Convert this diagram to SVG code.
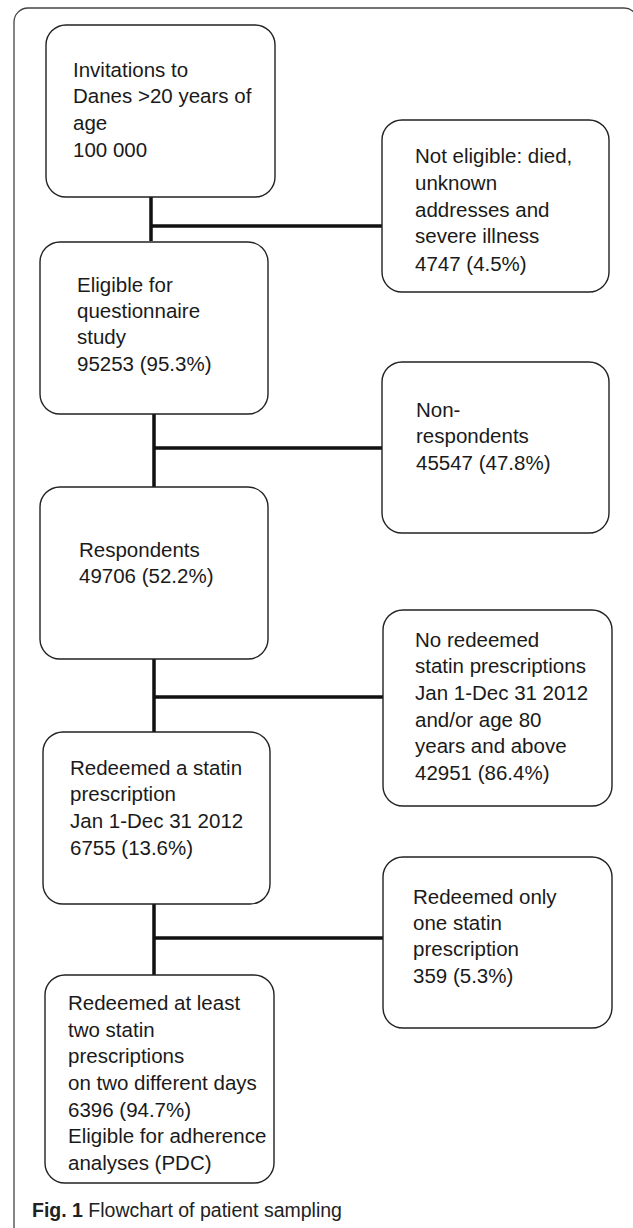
<svg xmlns="http://www.w3.org/2000/svg" width="633" height="1228" viewBox="0 0 633 1228">
  <style>
    .frame { fill: none; stroke: #444; stroke-width: 1.3; }
    .box { fill: #fff; stroke: #222; stroke-width: 1.4; }
    .lbl { font-family: "Liberation Sans", Arial, sans-serif; font-size: 20.5px; fill: #1a1a1a; }
    .conn { stroke: #111; stroke-width: 3.5; fill: none; }
    .cap { font-family: "Liberation Sans", Arial, sans-serif; font-size: 19.5px; fill: #222; }
  </style>
  <rect width="633" height="1228" fill="#fff"/>
  <rect class="frame" x="14" y="8" width="624" height="1250" rx="14"/>

  <g id="connectors">
    <path class="conn" d="M151,197 V241 M151,226 H382"/>
    <path class="conn" d="M154,414 V487 M154,448 H382"/>
    <path class="conn" d="M154,659 V732 M154,697 H383"/>
    <path class="conn" d="M154,904 V975 M154,938 H383"/>
  </g>

  <g id="invitations">
    <rect class="box" x="46" y="25" width="229" height="172" rx="20"/>
    <text class="lbl" x="73" y="77">Invitations to</text>
    <text class="lbl" x="73" y="103">Danes &gt;20 years of</text>
    <text class="lbl" x="73" y="130">age</text>
    <text class="lbl" x="73" y="157">100 000</text>
  </g>

  <g id="not-eligible">
    <rect class="box" x="382" y="120" width="227" height="172" rx="20"/>
    <text class="lbl" x="415" y="163">Not eligible: died,</text>
    <text class="lbl" x="415" y="190">unknown</text>
    <text class="lbl" x="415" y="217">addresses and</text>
    <text class="lbl" x="415" y="243">severe illness</text>
    <text class="lbl" x="415" y="271">4747 (4.5%)</text>
  </g>

  <g id="eligible">
    <rect class="box" x="40" y="242" width="228" height="172" rx="20"/>
    <text class="lbl" x="77" y="292">Eligible for</text>
    <text class="lbl" x="77" y="318">questionnaire</text>
    <text class="lbl" x="77" y="344">study</text>
    <text class="lbl" x="77" y="371">95253 (95.3%)</text>
  </g>

  <g id="non-respondents">
    <rect class="box" x="382" y="362" width="227" height="171" rx="20"/>
    <text class="lbl" x="416" y="417">Non-</text>
    <text class="lbl" x="416" y="443">respondents</text>
    <text class="lbl" x="416" y="470">45547 (47.8%)</text>
  </g>

  <g id="respondents">
    <rect class="box" x="40" y="487" width="228" height="172" rx="20"/>
    <text class="lbl" x="79" y="557">Respondents</text>
    <text class="lbl" x="79" y="583">49706 (52.2%)</text>
  </g>

  <g id="no-redeemed">
    <rect class="box" x="383" y="610" width="229" height="196" rx="20"/>
    <text class="lbl" x="415" y="647">No redeemed</text>
    <text class="lbl" x="415" y="673">statin prescriptions</text>
    <text class="lbl" x="415" y="700">Jan 1-Dec 31 2012</text>
    <text class="lbl" x="415" y="727">and/or age 80</text>
    <text class="lbl" x="415" y="753">years and above</text>
    <text class="lbl" x="415" y="780">42951 (86.4%)</text>
  </g>

  <g id="redeemed-statin">
    <rect class="box" x="43" y="732" width="227" height="172" rx="20"/>
    <text class="lbl" x="70" y="775">Redeemed a statin</text>
    <text class="lbl" x="70" y="801">prescription</text>
    <text class="lbl" x="70" y="828">Jan 1-Dec 31 2012</text>
    <text class="lbl" x="70" y="855">6755 (13.6%)</text>
  </g>

  <g id="redeemed-one">
    <rect class="box" x="383" y="857" width="229" height="171" rx="20"/>
    <text class="lbl" x="413" y="904">Redeemed only</text>
    <text class="lbl" x="413" y="930">one statin</text>
    <text class="lbl" x="413" y="956">prescription</text>
    <text class="lbl" x="413" y="983">359 (5.3%)</text>
  </g>

  <g id="redeemed-two">
    <rect class="box" x="45" y="975" width="229" height="208" rx="20"/>
    <text class="lbl" x="68" y="1010">Redeemed at least</text>
    <text class="lbl" x="68" y="1037">two statin</text>
    <text class="lbl" x="68" y="1063">prescriptions</text>
    <text class="lbl" x="68" y="1090">on two different days</text>
    <text class="lbl" x="68" y="1117">6396 (94.7%)</text>
    <text class="lbl" x="68" y="1143">Eligible for adherence</text>
    <text class="lbl" x="68" y="1170">analyses (PDC)</text>
  </g>

  <g id="caption">
    <text class="cap" x="32" y="1217"><tspan font-weight="bold">Fig. 1</tspan> Flowchart of patient sampling</text>
  </g>
</svg>
